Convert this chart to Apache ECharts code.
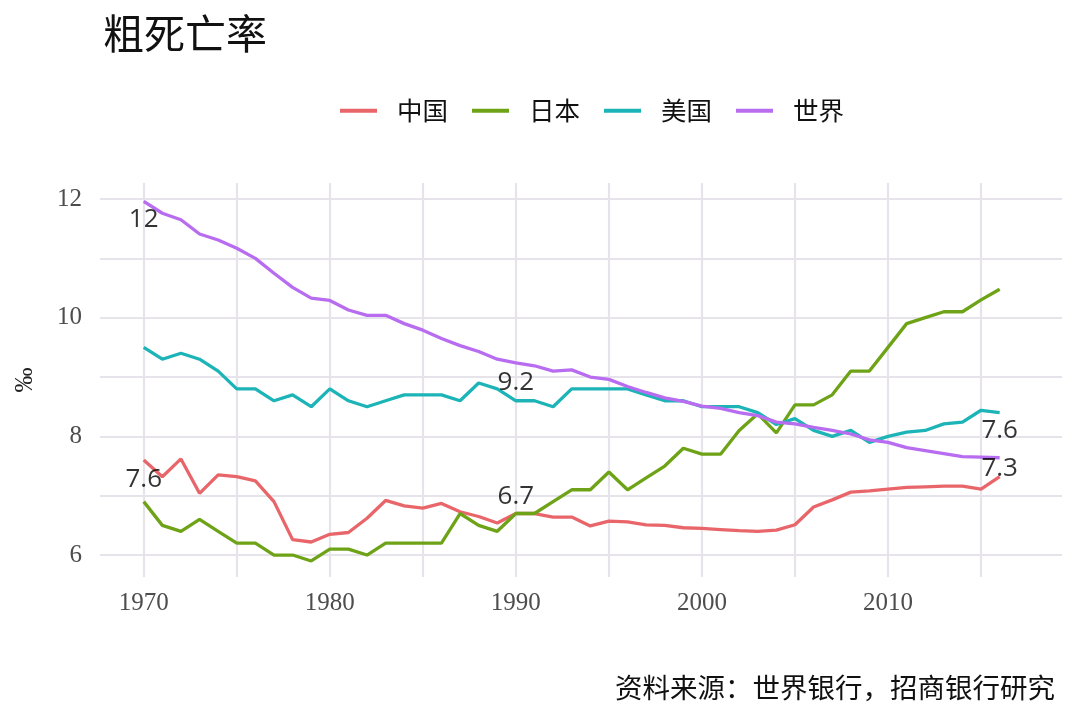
<!DOCTYPE html>
<html>
<head>
<meta charset="utf-8">
<script src="https://cdn.jsdelivr.net/npm/echarts@6/dist/echarts.min.js"></script>
<style>
html,body{margin:0;padding:0;background:#ffffff;}
#chart{width:1080px;height:720px;}
</style>
</head>
<body>
<div id="chart"></div>
<script>
const years = [];
for (let y = 1970; y <= 2016; y++) years.push(y);

const seriesNames = ['中国', '日本', '美国', '世界'];

const china = [7.6, 7.32, 7.62, 7.04, 7.35, 7.32, 7.25, 6.9, 6.26, 6.22,
  6.35, 6.38, 6.62, 6.92, 6.83, 6.79, 6.87, 6.73, 6.65, 6.54,
  6.7, 6.7, 6.64, 6.64, 6.49, 6.57, 6.56, 6.51, 6.5, 6.46,
  6.45, 6.43, 6.41, 6.4, 6.42, 6.51, 6.81, 6.93, 7.06, 7.08,
  7.11, 7.14, 7.15, 7.16, 7.16, 7.11, 7.32];

const japan = [6.9, 6.5, 6.4, 6.6, 6.4, 6.2, 6.2, 6.0, 6.0, 5.9,
  6.1, 6.1, 6.0, 6.2, 6.2, 6.2, 6.2, 6.7, 6.5, 6.4,
  6.7, 6.7, 6.9, 7.1, 7.1, 7.4, 7.1, 7.3, 7.5, 7.8,
  7.7, 7.7, 8.1, 8.38, 8.06, 8.53, 8.53, 8.7, 9.1, 9.1,
  9.5, 9.9, 10.0, 10.1, 10.1, 10.3, 10.48];

const usa = [9.5, 9.3, 9.4, 9.3, 9.1, 8.8, 8.8, 8.6, 8.7, 8.5,
  8.8, 8.6, 8.5, 8.6, 8.7, 8.7, 8.7, 8.6, 8.9, 8.8,
  8.6, 8.6, 8.5, 8.8, 8.8, 8.8, 8.8, 8.7, 8.6, 8.6,
  8.5, 8.5, 8.5, 8.4, 8.2, 8.3, 8.1, 8.0, 8.1, 7.9,
  8.0, 8.07, 8.1, 8.21, 8.24, 8.44, 8.4];

const world = [11.96, 11.76, 11.65, 11.41, 11.31, 11.17, 11.0, 10.75, 10.51, 10.33,
  10.29, 10.13, 10.04, 10.04, 9.9, 9.79, 9.65, 9.53, 9.43, 9.3,
  9.24, 9.19, 9.1, 9.12, 9.0, 8.96, 8.84, 8.74, 8.65, 8.59,
  8.51, 8.47, 8.4, 8.35, 8.24, 8.21, 8.15, 8.1, 8.04, 7.94,
  7.9, 7.81, 7.76, 7.71, 7.66, 7.65, 7.64];

const xTickLabels = [1970, 1980, 1990, 2000, 2010];
const xGridValues = [1970, 1975, 1980, 1985, 1990, 1995, 2000, 2005, 2010, 2015];
const yTickLabels = [6, 8, 10, 12];
const yGridValues = [6, 7, 8, 9, 10, 11, 12];
const labelYears = [1970, 1990, 2016];

const titleText = '粗死亡率';
const sourceText = '资料来源：世界银行，招商银行研究';
const yAxisName = '‰';

const colors = ['#E8666A', '#6EA317', '#1DB4B7', '#B86CEF'];
const valuesList = [china, japan, usa, world];

// label offsets (style only)
const labelOffsets = {
  '世界': [[0, 18], [0, 20], [0, -27]],
  '中国': [[0, 19], [0, -17], [0, -8]]
};

const chart = echarts.init(document.getElementById('chart'), null, {renderer: 'canvas'});

const lineSeries = seriesNames.map((name, i) => ({
  name: name,
  type: 'line',
  data: years.map((y, k) => [y, valuesList[i][k]]),
  symbol: 'none',
  smooth: false,
  z: 3,
  lineStyle: {color: colors[i], width: 3.3},
  itemStyle: {color: colors[i]},
  emphasis: {disabled: true},
  silent: true
}));

const annotData = [];
['世界', '中国'].forEach(name => {
  const arr = name === '世界' ? world : china;
  labelYears.forEach((yr, j) => {
    const v = arr[years.indexOf(yr)];
    annotData.push({
      value: [yr, v],
      label: {offset: labelOffsets[name][j]}
    });
  });
});

const gridLineStyle = {color: '#E6E4EA', width: 2.2, type: 'solid'};

const option = {
  backgroundColor: '#ffffff',
  animation: false,
  title: [
    {text: titleText, left: 98, top: 8,
     textStyle: {fontFamily: 'Noto Sans CJK SC', fontSize: 41, fontWeight: 'normal', color: '#111'}},
    {text: sourceText, right: 20, bottom: 14,
     textStyle: {fontFamily: 'Noto Sans CJK SC', fontSize: 27.5, fontWeight: 'normal', color: '#111'}}
  ],
  legend: {
    data: seriesNames,
    left: 335, top: 93,
    icon: 'rect',
    itemWidth: 37, itemHeight: 4,
    itemGap: 24,
    selectedMode: false,
    textStyle: {fontFamily: 'Noto Sans CJK SC', fontSize: 25.5, color: '#111', padding: [0, 0, 0, 15]}
  },
  grid: {left: 100, right: 18, top: 183, bottom: 143, containLabel: false},
  xAxis: {
    type: 'value', min: 1967.65, max: 2019.35,
    axisLine: {show: false}, axisTick: {show: false}, splitLine: {show: false},
    axisLabel: {customValues: xTickLabels, margin: 14, formatter: v => String(v),
      fontFamily: 'Liberation Serif', fontSize: 25, color: '#4D4D4D'}
  },
  yAxis: {
    type: 'value', min: 5.63, max: 12.27,
    name: yAxisName, nameLocation: 'middle', nameGap: 62, nameRotate: 90,
    nameTextStyle: {fontFamily: 'Liberation Serif', fontSize: 25, color: '#222'},
    axisLine: {show: false}, axisTick: {show: false}, splitLine: {show: false},
    axisLabel: {customValues: yTickLabels, margin: 18, formatter: v => String(v),
      fontFamily: 'Liberation Serif', fontSize: 25, color: '#4D4D4D'}
  },
  series: [
    {
      name: 'grid', type: 'line', data: [], silent: true, z: 1,
      markLine: {
        silent: true, symbol: ['none', 'none'], z: 1, animation: false,
        label: {show: false}, emphasis: {disabled: true},
        lineStyle: gridLineStyle,
        data: xGridValues.map(v => ({xAxis: v})).concat(yGridValues.map(v => ({yAxis: v})))
      }
    },
    ...lineSeries,
    {
      name: 'labels', type: 'scatter', data: annotData, symbolSize: 1, z: 5, silent: true,
      itemStyle: {color: 'rgba(0,0,0,0)'},
      label: {
        show: true, position: 'inside',
        fontFamily: 'Open Sans', fontSize: 26, color: '#000',
        formatter: p => String(Number(p.value[1].toFixed(1)))
      }
    }
  ]
};
chart.setOption(option);
</script>
</body>
</html>
